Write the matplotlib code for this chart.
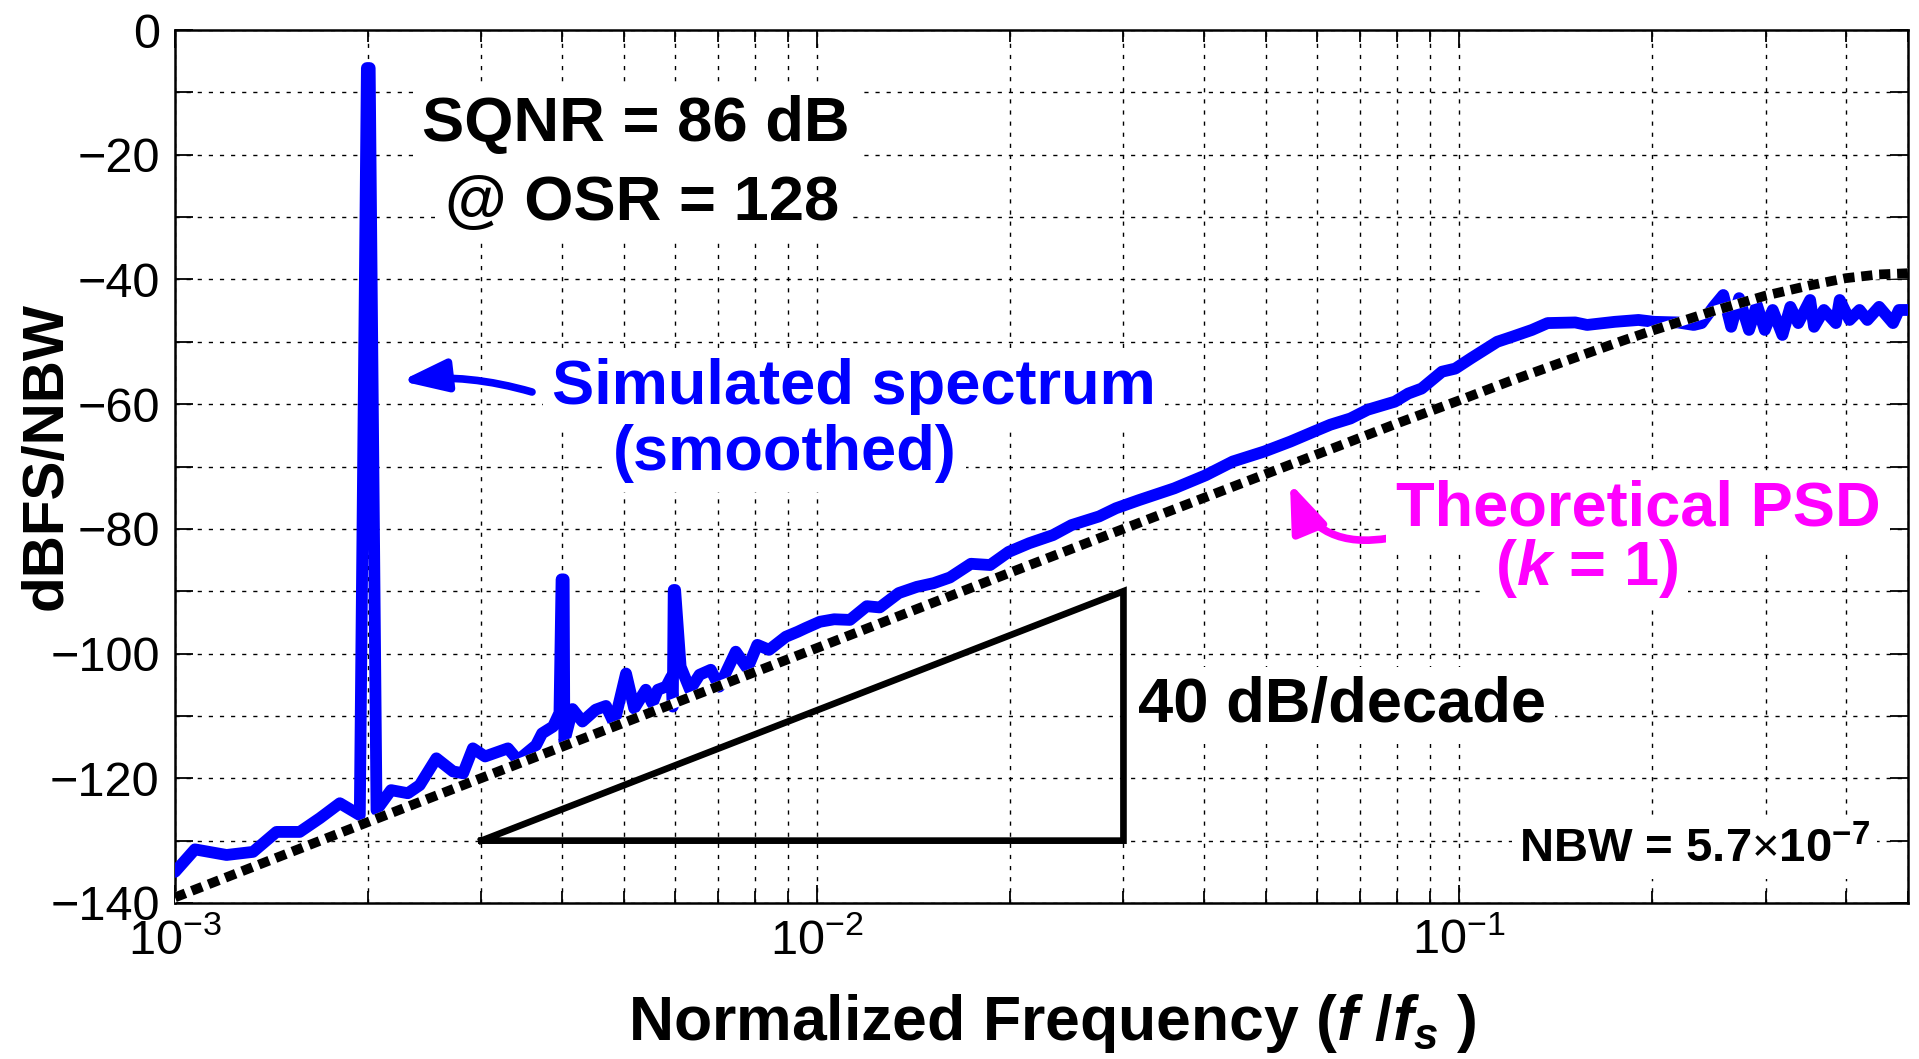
import matplotlib
matplotlib.use("Agg")
import matplotlib.pyplot as plt
from matplotlib.ticker import LogLocator, NullFormatter

plt.rcParams["font.family"] = "Liberation Sans"
plt.rcParams["mathtext.fontset"] = "custom"
plt.rcParams["mathtext.rm"] = "Liberation Sans"
plt.rcParams["mathtext.it"] = "Liberation Sans:italic"
plt.rcParams["mathtext.bf"] = "Liberation Sans:bold"
plt.rcParams["mathtext.bfit"] = "Liberation Sans:italic:bold"

# simulated (smoothed) spectrum
f_sim = [1.000e-3, 1.074e-3, 1.203e-3, 1.323e-3, 1.439e-3, 1.564e-3, 1.681e-3, 1.806e-3,
         1.940e-3, 1.990e-3, 2.010e-3, 2.060e-3, 2.170e-3, 2.305e-3, 2.405e-3, 2.553e-3,
         2.710e-3, 2.810e-3, 2.910e-3, 3.040e-3, 3.300e-3, 3.420e-3, 3.650e-3, 3.730e-3,
         3.880e-3, 3.970e-3, 4.000e-3, 4.030e-3, 4.040e-3, 4.160e-3, 4.310e-3, 4.520e-3,
         4.690e-3, 4.830e-3, 5.040e-3, 5.190e-3, 5.410e-3, 5.540e-3, 5.650e-3, 5.820e-3,
         5.930e-3, 5.960e-3, 5.980e-3, 6.010e-3, 6.130e-3, 6.340e-3, 6.560e-3, 6.830e-3,
         7.040e-3, 7.470e-3, 7.790e-3, 8.070e-3, 8.420e-3, 8.940e-3, 9.330e-3, 9.600e-3,
         1.010e-2, 1.063e-2, 1.125e-2, 1.195e-2, 1.252e-2, 1.340e-2, 1.430e-2, 1.520e-2,
         1.610e-2, 1.736e-2, 1.860e-2, 1.987e-2, 2.140e-2, 2.330e-2, 2.490e-2, 2.750e-2,
         2.920e-2, 3.170e-2, 3.600e-2, 4.030e-2, 4.440e-2, 4.970e-2, 5.460e-2, 5.940e-2,
         6.300e-2, 6.770e-2, 7.200e-2, 7.940e-2, 8.330e-2, 8.740e-2, 9.400e-2, 9.860e-2,
         0.1045, 0.1146, 0.1209, 0.1298, 0.1373, 0.1516, 0.1582, 0.1747, 0.1902, 0.2012,
         0.2191, 0.2319, 0.2385, 0.2489, 0.2578, 0.2652, 0.2729, 0.2827, 0.2908, 0.2992,
         0.3078, 0.3187, 0.3279, 0.3373, 0.3520, 0.3570, 0.3698, 0.3860, 0.3914, 0.4055,
         0.4202, 0.4322, 0.4508, 0.4738, 0.4840, 0.5000]
db_sim = [-135.0, -131.4, -132.3, -131.8, -128.6, -128.6, -126.4, -124.0,
          -125.9, -6.1, -6.1, -125.1, -121.9, -122.4, -121.1, -116.8,
          -118.9, -119.2, -115.2, -116.5, -115.2, -117.1, -114.7, -112.8,
          -111.7, -109.5, -88.1, -88.1, -114.1, -108.9, -110.9, -109.0,
          -108.4, -111.2, -103.2, -108.8, -105.8, -108.0, -105.8, -105.3,
          -103.7, -108.5, -89.8, -89.8, -102.1, -105.8, -103.4, -102.6,
          -105.3, -99.7, -102.4, -98.6, -99.4, -97.3, -96.5, -95.9,
          -94.9, -94.5, -94.6, -92.4, -92.6, -90.3, -89.3, -88.7,
          -87.8, -85.6, -85.8, -83.7, -82.3, -81.0, -79.4, -78.0,
          -76.7, -75.4, -73.5, -71.4, -69.2, -67.6, -66.0, -64.4,
          -63.3, -62.3, -60.9, -59.6, -58.3, -57.5, -54.8, -54.3,
          -52.6, -50.0, -49.2, -48.1, -47.0, -46.9, -47.3, -46.8, -46.5, -46.8,
          -46.9, -47.3, -47.0, -44.4, -42.5, -47.6, -43.0, -48.1, -44.1, -48.1,
          -44.9, -48.9, -44.4, -47.0, -43.3, -47.6, -44.9, -47.0, -43.3, -46.5,
          -44.9, -46.5, -44.4, -47.0, -44.9, -44.9]

# theoretical PSD (k = 1)
f_th = [0.001, 0.002, 0.005, 0.01, 0.02, 0.03, 0.05, 0.065, 0.08, 0.1, 0.12, 0.15,
        0.18, 0.2, 0.25, 0.3, 0.35, 0.4, 0.45, 0.5]
db_th = [-139.1, -127.0, -111.1, -99.1, -87.0, -80.0, -71.2, -66.7, -63.1, -59.4, -56.3, -52.7,
         -49.8, -48.2, -45.0, -42.6, -41.0, -39.8, -39.2, -39.0]

# 40 dB/decade slope triangle
tri_f = [3e-3, 3e-2, 3e-2, 3e-3]
tri_db = [-130, -130, -90, -130]

y_ticks = list(range(-140, 1, 10))
y_labels = [("\u2212%d" % -v if v < 0 else "0") if v % 20 == 0 else "" for v in y_ticks]

W, H = 1919, 1059


def fx(x):
    return x / W


def fy(y):
    return 1 - y / H


fig = plt.figure(figsize=(W / 100, H / 100), dpi=100)
ax = fig.add_axes([175 / W, 1 - 903 / H, 1733 / W, 873 / H])

ax.plot(f_sim, db_sim, color=(0, 0, 1), lw=8.5, solid_joinstyle="round",
        solid_capstyle="round", zorder=3)
ax.plot(f_th, db_th, color="white", lw=7, zorder=4)
ax.plot(f_th, db_th, color="black", lw=7, linestyle=(0, (1.15, 0.7)),
        dash_capstyle="butt", zorder=5)
ax.plot(tri_f, tri_db, color="black", lw=4.8, solid_joinstyle="miter", zorder=3)

ax.set_xscale("log")
ax.set_xlim(1e-3, 0.5)
ax.set_ylim(-140, 0)
ax.xaxis.set_major_locator(LogLocator(base=10, numticks=10))
ax.xaxis.set_minor_locator(LogLocator(base=10, subs=range(2, 10), numticks=20))
ax.xaxis.set_minor_formatter(NullFormatter())
ax.set_yticks(y_ticks)
ax.set_yticklabels(y_labels)

ax.tick_params(which="both", direction="in", top=True, right=True, labelsize=35,
               width=1.3, pad=11)
ax.tick_params(which="major", length=13)
ax.tick_params(which="minor", length=8.5)
for s in ax.spines.values():
    s.set_linewidth(1.8)

ax.set_axisbelow(True)
ax.grid(True, which="both", axis="x", color="black", linestyle=(0, (3, 5)), lw=1.0)
ax.grid(True, which="major", axis="y", color="black", linestyle=(0, (3, 5)), lw=1.0)

fig.text(fx(1052), fy(1040), r"Normalized Frequency ($\mathbfit{f}$ /$\mathbfit{f}_{\mathbfit{s}}$ )",
         ha="center", va="baseline", fontsize=45, fontweight="bold")
fig.text(fx(47), fy(456), "dBFS/NBW", rotation=90, ha="center", va="center",
         fontsize=42, fontweight="bold")

big = 45.5
box = dict(boxstyle="square,pad=0.15", facecolor="white", edgecolor="none")


def label(x, y, s, **kw):
    t = fig.text(fx(x), fy(y), s, va="baseline", fontweight="bold", bbox=box, **kw)
    t.set_zorder(6)
    return t


label(636, 141, "SQNR = 86 dB", ha="center", fontsize=big)
label(642, 220, "@ OSR = 128", ha="center", fontsize=big)

blue = (0, 0, 1)
label(854, 404, "Simulated spectrum", ha="center", fontsize=big, color=blue)
label(785, 470, "(smoothed)", ha="center", fontsize=big, color=blue)
ax.annotate("", xy=(fx(401), fy(381)), xycoords="figure fraction",
            xytext=(fx(532), fy(392)), textcoords="figure fraction",
            arrowprops=dict(arrowstyle="-|>,head_length=0.85,head_width=0.3",
                            color=blue, lw=5.5, mutation_scale=32,
                            shrinkA=0, shrinkB=0, connectionstyle="arc3,rad=0.1"))

mag = (1, 0, 1)
label(1638, 526, "Theoretical PSD", ha="center", fontsize=big, color=mag)
label(1587, 585, r"($\mathbfit{k}$ = 1)", ha="center", fontsize=big, color=mag)
ax.annotate("", xy=(fx(1290), fy(483)), xycoords="figure fraction",
            xytext=(fx(1390), fy(538)), textcoords="figure fraction",
            arrowprops=dict(arrowstyle="-|>,head_length=0.85,head_width=0.32",
                            color=mag, lw=5.5, mutation_scale=34,
                            shrinkA=0, shrinkB=0, connectionstyle="arc3,rad=-0.4"))

label(1138, 722, "40 dB/decade", ha="left", fontsize=big)
label(1870, 862, r"NBW = 5.7$\times\mathbf{10}^{\mathbf{-7}}$", ha="right", fontsize=34)

fig.savefig("out.png", dpi=100)
